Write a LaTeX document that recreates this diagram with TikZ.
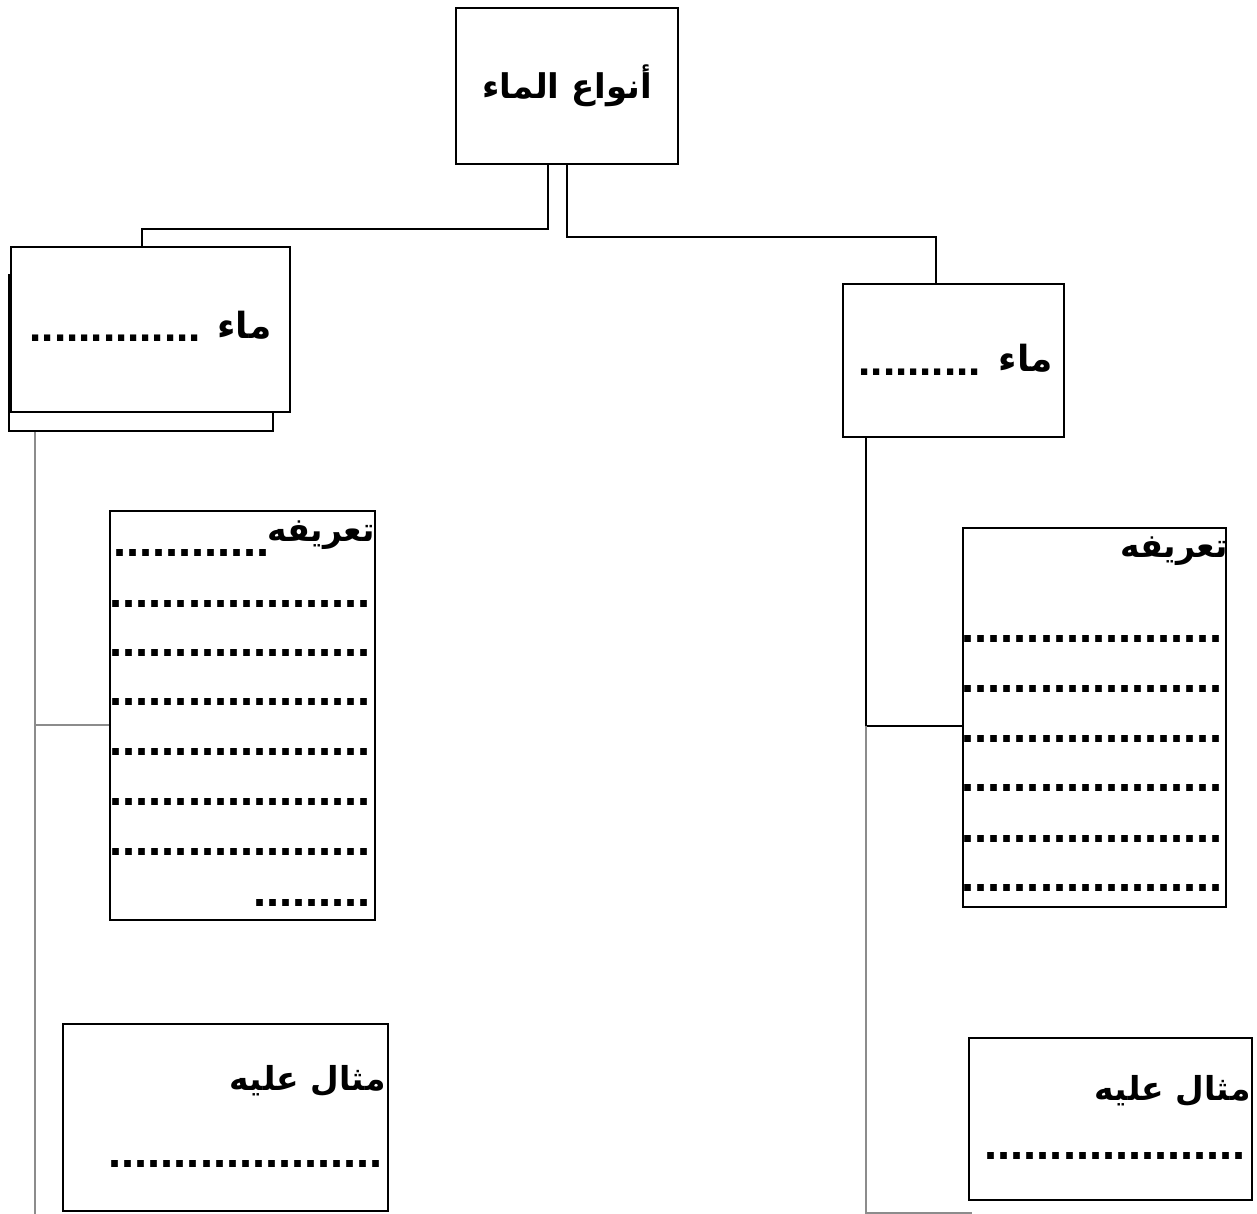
\documentclass[tikz,border=0pt]{standalone}
\usepackage{fontspec}
\newfontfamily\arfont[Script=Arabic]{DejaVu Sans}
\newfontfamily\dotfont{Liberation Sans}
\TeXXeTstate=1
\begin{document}
\begin{tikzpicture}[x=1pt,y=-1pt,
  box/.style={draw=black, line width=2.2pt, fill=white, inner sep=0pt},
  conn/.style={draw=black, line width=2pt},
  lightconn/.style={draw=black!45, line width=1.6pt},
  artext/.style={font=\arfont\bfseries\fontsize{33}{36}\selectfont, inner sep=0pt},
  hartext/.style={font=\arfont\bfseries\fontsize{36}{40}\selectfont, inner sep=0pt},
  dotrow/.style={font=\dotfont\bfseries\fontsize{47}{50}\selectfont, inner sep=0pt, anchor=base east},
  hdots/.style={font=\dotfont\bfseries\fontsize{44}{48}\selectfont, inner sep=0pt, anchor=base east}]
\useasboundingbox (0,0) rectangle (1257,1214);
% boxes
\node[box, minimum width=222pt, minimum height=156pt] (top) at (567,86) {};
\node[hartext, font=\arfont\bfseries\fontsize{34}{38}\selectfont] (toptext) at (567,86) {\beginR أنواع الماء\endR};
\node[box, minimum width=264pt, minimum height=156pt] (lshadow) at (141,353) {};
\node[box, minimum width=279pt, minimum height=165pt] (lbox) at (150.5,329.5) {};
\node[box, minimum width=221pt, minimum height=153pt] (rbox) at (953.5,360.5) {};
\node[box, minimum width=265pt, minimum height=409pt] (ldef) at (242.5,715.5) {};
\node[box, minimum width=263pt, minimum height=379pt] (rdef) at (1094.5,717.5) {};
\node[box, minimum width=325pt, minimum height=187pt] (lex) at (225.5,1117.5) {};
\node[box, minimum width=283pt, minimum height=162pt] (rex) at (1110.5,1119) {};
% connectors
\draw[conn] ([xshift=-19pt]top.south) -- ++(0,64) -| ([xshift=-8.5pt]lbox.north);
\draw[conn] (top.south) -- ++(0,72) -| ([xshift=-17.5pt]rbox.north);
\draw[lightconn] ([xshift=27pt]lshadow.south west) coordinate (lj) -- ++(0,790);
\coordinate (lk) at ([yshift=-9.5pt]ldef.west);
\draw[lightconn] (lk) -- (lj |- lk);
\draw[conn] ([xshift=-87.5pt]rbox.south) -- ++(0,288) coordinate (rj);
\draw[conn] (rj) -- (rj -| rdef.west);
\draw[lightconn] (rj) -- ++(0,487) -- ++(106,0);
% header texts
\node[hartext, anchor=east] (lh) at (272,325) {\beginR ماء\endR};
\node[hdots] (lhd) at (201,341) {..............};
\node[hartext, anchor=east] (rh) at (1053,358) {\beginR ماء\endR};
\node[hdots] (rhd) at (981,375) {..........};
% left definition
\node[artext, anchor=east] (ldt) at (375,535) {\beginR تعريفه\endR};
\node[dotrow] (ld1) at (270,556) {............};
\node[dotrow] (ld2) at (371,607) {....................};
\node[dotrow] (ld3) at (371,656) {....................};
\node[dotrow] (ld4) at (371,705) {....................};
\node[dotrow] (ld5) at (371,755) {....................};
\node[dotrow] (ld6) at (371,805) {....................};
\node[dotrow] (ld7) at (371,855) {....................};
\node[dotrow] (ld8) at (371,906) {.........};
% right definition
\node[artext, anchor=east] (rdt) at (1228,551) {\beginR تعريفه\endR};
\node[dotrow] (rd1) at (1223,642) {....................};
\node[dotrow] (rd2) at (1223,692) {....................};
\node[dotrow] (rd3) at (1223,742) {....................};
\node[dotrow] (rd4) at (1223,791) {....................};
\node[dotrow] (rd5) at (1223,842) {....................};
\node[dotrow] (rd6) at (1223,891) {....................};
% examples
\node[artext, anchor=east] (let) at (386,1081) {\beginR مثال عليه\endR};
\node[dotrow] (led) at (383,1167) {.....................};
\node[artext, anchor=east] (ret) at (1251,1091) {\beginR مثال عليه\endR};
\node[dotrow] (red) at (1246,1159) {....................};
\end{tikzpicture}
\end{document}
